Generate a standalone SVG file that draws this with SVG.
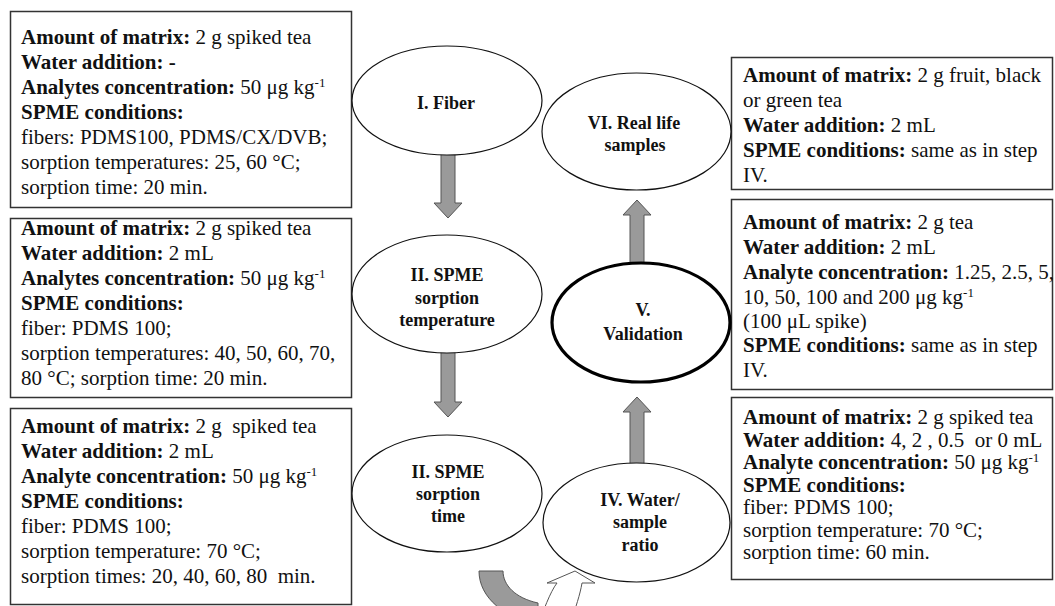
<svg xmlns="http://www.w3.org/2000/svg" width="1055" height="606" viewBox="0 0 1055 606">
<style>
.t{font-family:"Liberation Serif","Times New Roman",serif;font-size:21px;fill:#111}
.b{font-weight:bold}
.sup{font-size:13px}
.box{fill:#fff;stroke:#333;stroke-width:1.5}
.ell{fill:#fff;stroke:#111;stroke-width:1.2}
.ellv{fill:#fff;stroke:#000;stroke-width:3.2}
.lbl{font-family:"Liberation Serif","Times New Roman",serif;font-size:18px;font-weight:bold;text-anchor:middle;fill:#111}
.arr{fill:#9a9a9a;stroke:#555;stroke-width:1}
.arrw{fill:#fff;stroke:#555;stroke-width:1}
</style>
<rect width="1055" height="606" fill="#fff"/>
<g id="connectors">
<path class="arr" d="M441,150 L455,150 L455,203 L462,203 L448,218 L434,203 L441,203 Z"/>
<path class="arr" d="M441,348 L455,348 L455,402 L462,402 L448,417 L434,402 L441,402 Z"/>
<path class="arr" d="M630,468 L630,412 L623,412 L637,397 L651,412 L644,412 L644,468 Z"/>
<path class="arr" d="M630,268 L630,215 L623,215 L637,200 L651,215 L644,215 L644,268 Z"/>
<path class="arr" d="M479,571 L503,571 C503,585 515,598 538,603 L538,625 C505,618 479,598 479,571 Z"/>
<path class="arrw" d="M538,625 C543,612 550,592 557,583 L547,583 L575,571 L595,583 L582,583 C580,595 576,606 570,625 Z"/>
</g>
<g id="box-fiber">
<rect class="box" x="10.5" y="11.5" width="341" height="196"/>
<text class="t" x="21" y="44"><tspan class="b">Amount of matrix:</tspan> 2 g spiked tea</text>
<text class="t b" x="21" y="69">Water addition: -</text>
<text class="t" x="21" y="94"><tspan class="b">Analytes concentration:</tspan> 50 μg kg<tspan class="sup" dy="-7">-1</tspan></text>
<text class="t b" x="21" y="119">SPME conditions:</text>
<text class="t" x="21" y="144">fibers: PDMS100, PDMS/CX/DVB;</text>
<text class="t" x="21" y="169">sorption temperatures: 25, 60 °C;</text>
<text class="t" x="21" y="194">sorption time: 20 min.</text>
</g>
<g id="box-temperature">
<rect class="box" x="10.5" y="218.5" width="341" height="179"/>
<text class="t" x="21" y="235"><tspan class="b">Amount of matrix:</tspan> 2 g spiked tea</text>
<text class="t" x="21" y="260"><tspan class="b">Water addition:</tspan> 2 mL</text>
<text class="t" x="21" y="285"><tspan class="b">Analytes concentration:</tspan> 50 μg kg<tspan class="sup" dy="-7">-1</tspan></text>
<text class="t b" x="21" y="310">SPME conditions:</text>
<text class="t" x="21" y="335">fiber: PDMS 100;</text>
<text class="t" x="21" y="360">sorption temperatures: 40, 50, 60, 70,</text>
<text class="t" x="21" y="385">80 °C; sorption time: 20 min.</text>
</g>
<g id="box-time">
<rect class="box" x="10.5" y="408.5" width="341" height="196"/>
<text class="t" x="21" y="433" xml:space="preserve"><tspan class="b">Amount of matrix:</tspan> 2 g  spiked tea</text>
<text class="t" x="21" y="458"><tspan class="b">Water addition:</tspan> 2 mL</text>
<text class="t" x="21" y="483"><tspan class="b">Analyte concentration:</tspan> 50 μg kg<tspan class="sup" dy="-7">-1</tspan></text>
<text class="t b" x="21" y="508">SPME conditions:</text>
<text class="t" x="21" y="533">fiber: PDMS 100;</text>
<text class="t" x="21" y="558">sorption temperature: 70 °C;</text>
<text class="t" x="21" y="583" xml:space="preserve">sorption times: 20, 40, 60, 80  min.</text>
</g>
<g id="box-real">
<rect class="box" x="731.5" y="57.5" width="321" height="132"/>
<text class="t" x="743" y="82"><tspan class="b">Amount of matrix:</tspan> 2 g fruit, black</text>
<text class="t" x="743" y="107">or green tea</text>
<text class="t" x="743" y="132"><tspan class="b">Water addition:</tspan> 2 mL</text>
<text class="t" x="743" y="157"><tspan class="b">SPME conditions:</tspan> same as in step</text>
<text class="t" x="743" y="182">IV.</text>
</g>
<g id="box-validation">
<rect class="box" x="731.5" y="199.5" width="321" height="190"/>
<text class="t" x="743" y="229"><tspan class="b">Amount of matrix:</tspan> 2 g tea</text>
<text class="t" x="743" y="254"><tspan class="b">Water addition:</tspan> 2 mL</text>
<text class="t" x="743" y="279"><tspan class="b">Analyte concentration:</tspan> 1.25, 2.5, 5,</text>
<text class="t" x="743" y="304">10, 50, 100 and 200 μg kg<tspan class="sup" dy="-7">-1</tspan></text>
<text class="t" x="743" y="328">(100 μL spike)</text>
<text class="t" x="743" y="352"><tspan class="b">SPME conditions:</tspan> same as in step</text>
<text class="t" x="743" y="377">IV.</text>
</g>
<g id="box-water">
<rect class="box" x="731.5" y="397.5" width="321" height="182"/>
<text class="t" x="743" y="424"><tspan class="b">Amount of matrix:</tspan> 2 g spiked tea</text>
<text class="t" x="743" y="447" xml:space="preserve"><tspan class="b">Water addition:</tspan> 4, 2 , 0.5  or 0 mL</text>
<text class="t" x="743" y="469"><tspan class="b">Analyte concentration:</tspan> 50 μg kg<tspan class="sup" dy="-7">-1</tspan></text>
<text class="t b" x="743" y="492">SPME conditions:</text>
<text class="t" x="743" y="514">fiber: PDMS 100;</text>
<text class="t" x="743" y="537">sorption temperature: 70 °C;</text>
<text class="t" x="743" y="559">sorption time: 60 min.</text>
</g>
<g id="node-fiber">
<ellipse class="ell" cx="447" cy="100.5" rx="95" ry="54.5"/>
<text class="lbl" x="446" y="109">I. Fiber</text>
</g>
<g id="node-temperature">
<ellipse class="ell" cx="447" cy="294" rx="95" ry="59"/>
<text class="lbl" x="447" y="281">II. SPME</text>
<text class="lbl" x="447" y="303.5">sorption</text>
<text class="lbl" x="447" y="326">temperature</text>
</g>
<g id="node-time">
<ellipse class="ell" cx="447" cy="493.5" rx="95" ry="58.5"/>
<text class="lbl" x="448" y="478">II. SPME</text>
<text class="lbl" x="448" y="500">sorption</text>
<text class="lbl" x="448" y="522">time</text>
</g>
<g id="node-water">
<ellipse class="ell" cx="636.5" cy="522.5" rx="93.5" ry="59.5"/>
<text class="lbl" x="640" y="506">IV. Water/</text>
<text class="lbl" x="640" y="528">sample</text>
<text class="lbl" x="640" y="551">ratio</text>
</g>
<g id="node-validation">
<ellipse class="ellv" cx="641" cy="322.5" rx="89" ry="59.5"/>
<text class="lbl" x="643" y="316">V.</text>
<text class="lbl" x="643" y="340">Validation</text>
</g>
<g id="node-real">
<ellipse class="ell" cx="636.5" cy="131.5" rx="94.5" ry="58.5"/>
<text class="lbl" x="634" y="129">VI. Real life</text>
<text class="lbl" x="635" y="151">samples</text>
</g>
</svg>
